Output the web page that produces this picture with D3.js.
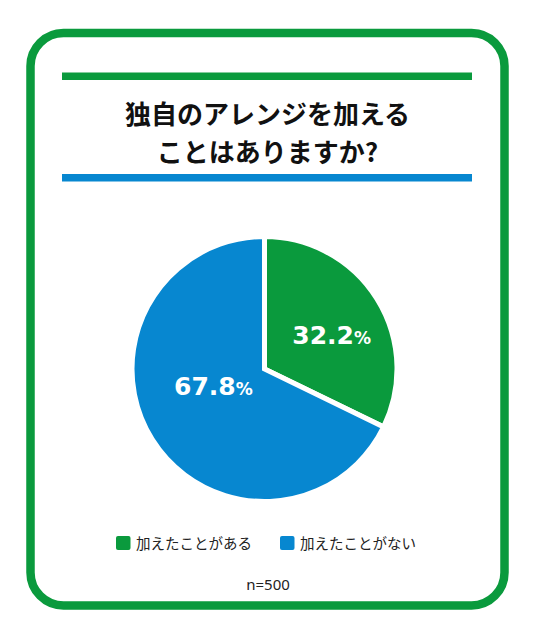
<!DOCTYPE html>
<html>
<head>
<meta charset="utf-8">
<script src="https://cdn.jsdelivr.net/npm/d3@7"></script>
<style>
  html, body { margin: 0; padding: 0; background: #fff; }
</style>
</head>
<body>
<div id="chart"></div>
<script>
// data
const titleLines = ["独自のアレンジを加える", "ことはありますか?"];
const categories = ["加えたことがある", "加えたことがない"];
const values = [32.2, 67.8];
const colors = ["#0a9a3d", "#0787d0"];
const note = "n=500";

const width = 535, height = 640;

const svg = d3.select("#chart").append("svg")
    .attr("width", width)
    .attr("height", height);

svg.append("rect")
    .attr("width", width).attr("height", height)
    .attr("fill", "#fff");

// rounded green frame
svg.append("rect")
    .attr("x", 30.5).attr("y", 33)
    .attr("width", 474).attr("height", 572.5)
    .attr("rx", 33).attr("ry", 33)
    .attr("fill", "none")
    .attr("stroke", colors[0])
    .attr("stroke-width", 8.5);

// bars above and below the title
svg.append("rect")
    .attr("x", 62).attr("y", 72.5)
    .attr("width", 410).attr("height", 7.5)
    .attr("fill", colors[0]);

svg.append("rect")
    .attr("x", 62).attr("y", 174)
    .attr("width", 410).attr("height", 7.5)
    .attr("fill", colors[1]);

svg.append("g").selectAll("text")
    .data(titleLines)
    .enter()
    .append("text")
      .attr("x", 267.5)
      .attr("y", (d, i) => 124 + i * 38)
      .attr("text-anchor", "middle")
      .style("font-family", "'Noto Sans CJK JP', sans-serif")
      .style("font-weight", "bold")
      .style("font-size", "26px")
      .style("fill", "#111")
      .text(d => d);

// pie
const radius = 132.5;
const pieGroup = svg.append("g")
    .attr("transform", "translate(264.5, 369)");

const pie = d3.pie().sort(null).value(d => d);
const arcs = pie(values);

const arc = d3.arc().innerRadius(0).outerRadius(radius);

pieGroup.selectAll("path")
    .data(arcs)
    .enter()
    .append("path")
      .attr("d", arc)
      .attr("fill", (d, i) => colors[i])
      .attr("stroke", "#fff")
      .attr("stroke-width", 5)
      .attr("stroke-linejoin", "miter");

//labels sit on the centroid, nudged a little like the original
const nudge = [[11, 10], [5, -9]];
const labels = pieGroup.selectAll("text.pct")
    .data(arcs)
    .enter()
    .append("text")
      .attr("class", "pct")
      .attr("transform", (d, i) => {
        const c = arc.centroid(d);
        return "translate(" + (c[0] + nudge[i][0]) + "," + (c[1] + nudge[i][1]) + ")";
      })
      .attr("text-anchor", "middle")
      .style("font-family", "'DejaVu Sans', sans-serif")
      .style("font-weight", "bold")
      .style("fill", "#fff");

labels.append("tspan")
    .style("font-size", "25px")
    .text(d => d.data.toFixed(1));
labels.append("tspan")
    .style("font-size", "17px")
    .text("%");

// legend
const legendX = [116, 280];
const legend = svg.append("g").selectAll("g")
    .data(categories)
    .enter()
    .append("g")
      .attr("transform", (d, i) => "translate(" + legendX[i] + ", 536)");

legend.append("rect")
    .attr("width", 14.5).attr("height", 14)
    .attr("rx", 2)
    .attr("fill", (d, i) => colors[i]);

legend.append("text")
    .attr("x", 20)
    .attr("y", 12.5)
    .style("font-family", "'Noto Sans CJK JP', sans-serif")
    .style("font-size", "14.5px")
    .style("fill", "#222")
    .text(d => d);

svg.append("text")
    .attr("x", 268)
    .attr("y", 590)
    .attr("text-anchor", "middle")
    .style("font-family", "'Noto Sans', sans-serif")
    .style("font-size", "15px")
    .style("fill", "#222")
    .text(note);
</script>
</body>
</html>
